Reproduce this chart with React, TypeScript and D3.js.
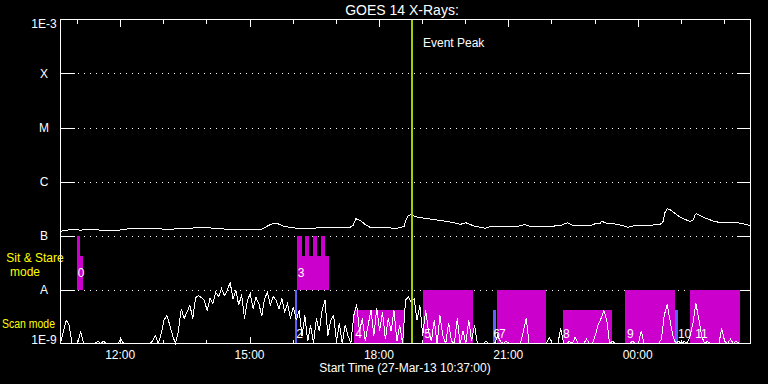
import React from "react";
import * as d3 from "d3";

// ---- time axis: minutes after the start time 27-Mar-13 10:37:00 UT ----
const START_MS = Date.UTC(2013, 2, 27, 10, 37, 0);
const SPAN_MIN = 960;

const yTickFlux = [1e-3, 1e-4, 1e-5, 1e-6, 1e-7, 1e-8, 1e-9];
const yTickLabels = ["1E-3", "X", "M", "C", "B", "A", "1E-9"];

// GOES 14 long channel (units of 1e-7 W/m^2)
const longMinutes = [0,14,28,46,60,76,90,95,125,139,143,153,160,174,188,195,208,222,243,264,281,289,295,303,310,320,334,347,361,375,389,403,407,411,417,424,431,445,459,466,473,478,481,484,488,493,500,514,528,542,552,556,560,564,570,577,584,591,598,612,625,639,646,653,667,681,695,705,712,723,737,744,751,753,759,771,778,789,799,820,834,838,841,844,848,855,862,869,876,880,883,885,889,899,908,917,931,945,959];
const longFluxE7 = [1.20,1.29,1.26,1.29,1.24,1.24,1.29,1.36,1.36,1.35,1.29,1.28,1.33,1.33,1.39,1.42,1.38,1.33,1.29,1.29,1.32,1.53,1.65,1.64,1.50,1.41,1.33,1.33,1.41,1.42,1.42,1.42,1.53,2.04,1.90,1.60,1.41,1.38,1.38,1.35,1.41,1.47,1.98,2.35,2.45,2.25,2.15,2.02,1.90,1.78,1.67,1.60,1.67,1.72,1.60,1.47,1.42,1.36,1.47,1.49,1.49,1.50,1.60,1.49,1.49,1.49,1.51,1.72,1.56,1.53,1.53,1.65,1.70,1.84,1.70,1.64,1.58,1.42,1.53,1.55,1.60,1.74,2.67,3.12,3.03,2.55,2.20,1.98,1.82,1.90,2.45,2.52,2.35,2.06,1.86,1.74,1.74,1.70,1.53];

// GOES 14 short channel, one sample every 4 minutes (units of 1e-9 W/m^2)
const shortStepMin = 4;
const shortFluxE9 = [
  1.0,1.7,2.7,2.2,1.0,1.0,1.0,1.7,1.0,1.0,
  1.0,1.0,1.0,1.1,1.0,1.1,1.0,1.0,1.0,1.0,
  1.0,1.2,1.0,1.0,1.0,1.0,1.0,1.0,1.0,1.0,
  1.0,1.0,1.1,1.4,1.0,1.5,2.7,3.3,2.2,1.4,
  1.0,1.7,4.4,2.9,3.8,5.1,2.9,7.1,7.7,7.1,
  6.3,4.1,6.8,5.5,8.8,7.4,10.4,7.7,9.6,13.5,
  6.8,9.6,5.1,8.1,2.9,6.3,8.4,4.4,7.1,5.5,
  3.2,6.8,8.8,5.1,7.4,6.3,4.4,6.8,3.8,5.5,
  2.9,4.8,2.7,4.1,1.4,3.3,1.1,2.2,1.0,2.9,
  1.7,4.1,6.3,1.4,2.7,3.3,1.1,2.4,1.0,2.2,
  1.4,1.0,3.3,5.3,1.7,2.9,1.1,2.2,4.1,1.4,
  4.6,1.7,3.8,1.2,2.9,1.7,4.1,1.1,2.2,1.0,
  6.3,7.4,5.7,6.8,2.7,5.1,1.4,4.1,1.7,1.1,
  2.7,1.0,3.3,1.4,1.0,2.4,1.1,1.0,2.9,1.0,
  1.7,1.0,2.7,1.1,2.2,1.0,1.0,1.0,1.1,1.0,
  1.0,1.0,1.4,1.1,1.0,1.1,1.0,1.0,1.0,1.0,
  1.0,1.7,2.9,1.0,1.0,1.0,1.0,1.0,1.0,1.0,
  1.3,1.0,1.0,1.0,1.9,1.0,1.0,1.1,1.0,1.3,
  1.0,1.0,1.0,1.2,1.0,1.0,1.4,2.2,2.9,4.1,
  2.7,1.0,1.1,1.0,1.0,1.0,1.0,1.0,1.0,1.1,
  1.0,1.0,1.7,1.0,1.0,1.0,1.0,1.0,1.0,1.2,
  3.3,5.3,2.7,1.4,1.0,1.1,1.0,1.1,1.0,1.4,
  2.4,5.5,2.9,1.4,1.0,1.1,1.0,1.0,1.0,1.0,
  1.9,1.1,1.0,1.2,1.0,1.1,1.0,1.0,1.0,1.0,
  1.0
];

// Sit & Stare observations (bottom at A level)
const sitStart = [23, 23, 329, 329, 340, 351, 362];
const sitEnd = [31, 27, 374, 336, 346, 357, 368];
const sitTop = [4.1e-8, 1e-7, 4.1e-8, 1e-7, 1e-7, 1e-7, 1e-7];

// Scan mode observations (bottom at 1E-9)
const scanStart = [408, 505, 607, 699, 785, 876];
const scanEnd = [478, 574, 676, 767, 855, 946];
const scanTop = [4.1e-9, 1e-8, 1e-8, 4.1e-9, 1e-8, 1e-8];
const shortScanStart = [326, 602, 855];
const shortScanEnd = [329, 606, 859];
const shortScanTop = [1e-8, 4.1e-9, 4.1e-9];

// observation numbers
const obsLabels = ["0", "3", "2", "4", "5", "6", "7", "8", "9", "10", "11"];
const obsLabelMinute = [24, 330, 328, 410, 506, 602, 610, 699, 788, 859, 883];
const obsLabelRow = ["sit", "sit", "scan", "scan", "scan", "scan", "scan", "scan", "scan", "scan", "scan"];

const eventPeakMinute = 489;

const W = 768;
const H = 384;
const L = 60.5, R = 750.5, T = 19.5, B = 343.5;
const FONT = "'Liberation Sans', Arial, sans-serif";
const MAGENTA = "#cc00cc";
const BLUE = "#6060ff";
const YELLOW = "#ffff00";
const GREEN = "#a0d000";

const toDate = (m: number) => new Date(START_MS + m * 60000);

export default function App() {
  const x = d3.scaleUtc().domain([toDate(0), toDate(SPAN_MIN)]).range([L, R]);
  const y = d3.scaleLog().domain([1e-9, 1e-3]).range([B, T]).clamp(true);

  const longData = longMinutes.map((m, i) => ({ t: toDate(m), v: longFluxE7[i] * 1e-7 }));
  const shortData = shortFluxE9.map((v, i) => ({ t: toDate(i * shortStepMin), v: v * 1e-9 }));
  const line = d3.line<{ t: Date; v: number }>().x((d) => x(d.t)).y((d) => y(d.v));

  const hourTicks = x.ticks(d3.utcHour.every(1)!);
  const majorTicks = x.ticks(d3.utcHour.every(3)!);
  const fmt = d3.utcFormat("%H:%M");
  const isMajor = (d: Date) => d.getUTCHours() % 3 === 0;

  const px = (v: number) => Math.round(v) + 0.5;

  return (
    <svg width={W} height={H} style={{ position: "fixed", left: 0, top: 0, background: "#000" }} fontFamily={FONT}>
      <rect x={0} y={0} width={W} height={H} fill="#000" />
      <text x={402} y={15} fill="#fff" fontSize={14} textAnchor="middle">GOES 14 X-Rays:</text>

      {/* y gridlines and ticks */}
      {yTickFlux.map((f, i) => {
        const yy = px(y(f));
        const inner = i > 0 && i < yTickFlux.length - 1;
        const dy = i === 0 ? 8 : i === yTickFlux.length - 1 ? 0 : 4.5;
        return (
          <g key={"y" + i}>
            {inner && (
              <>
                <line x1={L} x2={L + 14} y1={yy} y2={yy} stroke="#fff" shapeRendering="crispEdges" />
                <line x1={R - 14} x2={R} y1={yy} y2={yy} stroke="#fff" shapeRendering="crispEdges" />
                <line x1={L + 17} x2={R - 14} y1={yy} y2={yy} stroke="#fff" strokeDasharray="1 5" shapeRendering="crispEdges" />
              </>
            )}
            <text x={44} y={y(f) + dy} fill="#fff" fontSize={12} textAnchor="middle">{yTickLabels[i]}</text>
          </g>
        );
      })}

      {/* x ticks */}
      {hourTicks.map((d, i) => {
        const xx = px(x(d));
        const len = isMajor(d) ? 7 : 4;
        return (
          <g key={"x" + i}>
            <line x1={xx} x2={xx} y1={T} y2={T + len} stroke="#fff" shapeRendering="crispEdges" />
            <line x1={xx} x2={xx} y1={B} y2={B - len} stroke="#fff" shapeRendering="crispEdges" />
          </g>
        );
      })}
      {majorTicks.map((d, i) => (
        <text key={"xl" + i} x={x(d)} y={359} fill="#fff" fontSize={12} textAnchor="middle">{fmt(d)}</text>
      ))}
      <text x={405} y={372} fill="#fff" fontSize={12} textAnchor="middle">Start Time (27-Mar-13 10:37:00)</text>

      {/* mode labels */}
      <text x={35} y={262} fill={YELLOW} fontSize={12} textAnchor="middle">Sit &amp; Stare</text>
      <text x={25} y={276} fill={YELLOW} fontSize={12} textAnchor="middle">mode</text>
      <text x={2} y={328} fill={YELLOW} fontSize={12} textLength={53} lengthAdjust="spacingAndGlyphs">Scan mode</text>

      {/* observation blocks */}
      {sitStart.map((s, i) => (
        <rect key={"s" + i} x={Math.round(x(toDate(s)))} width={Math.round(x(toDate(sitEnd[i]))) - Math.round(x(toDate(s)))}
          y={Math.round(y(sitTop[i]))} height={Math.round(y(1e-8)) - Math.round(y(sitTop[i]))} fill={MAGENTA} shapeRendering="crispEdges" />
      ))}
      {scanStart.map((s, i) => (
        <rect key={"c" + i} x={Math.round(x(toDate(s)))} width={Math.round(x(toDate(scanEnd[i]))) - Math.round(x(toDate(s)))}
          y={Math.round(y(scanTop[i]))} height={Math.round(y(1e-9)) - Math.round(y(scanTop[i]))} fill={MAGENTA} shapeRendering="crispEdges" />
      ))}
      {shortScanStart.map((s, i) => (
        <rect key={"b" + i} x={Math.round(x(toDate(s)))} width={Math.round(x(toDate(shortScanEnd[i]))) - Math.round(x(toDate(s)))}
          y={Math.round(y(shortScanTop[i]))} height={Math.round(y(1e-9)) - Math.round(y(shortScanTop[i]))} fill={BLUE} shapeRendering="crispEdges" />
      ))}
      {obsLabels.map((lab, i) => (
        <text key={"o" + i} x={x(toDate(obsLabelMinute[i]))} y={obsLabelRow[i] === "sit" ? 277 : 338} fill="#fff" fontSize={12}>{lab}</text>
      ))}

      {/* GOES curves */}
      <path d={line(shortData) ?? ""} fill="none" stroke="#fff" strokeWidth={1} shapeRendering="crispEdges" />
      <path d={line(longData) ?? ""} fill="none" stroke="#fff" strokeWidth={1} shapeRendering="crispEdges" />

      {/* event peak */}
      <line x1={x(toDate(eventPeakMinute))} x2={x(toDate(eventPeakMinute))} y1={T} y2={B} stroke={GREEN} strokeWidth={2} shapeRendering="crispEdges" />
      <text x={x(toDate(eventPeakMinute)) + 11} y={47} fill="#fff" fontSize={12}>Event Peak</text>

      {/* frame */}
      <rect x={L} y={T} width={R - L} height={B - T} fill="none" stroke="#fff" shapeRendering="crispEdges" />
    </svg>
  );
}
